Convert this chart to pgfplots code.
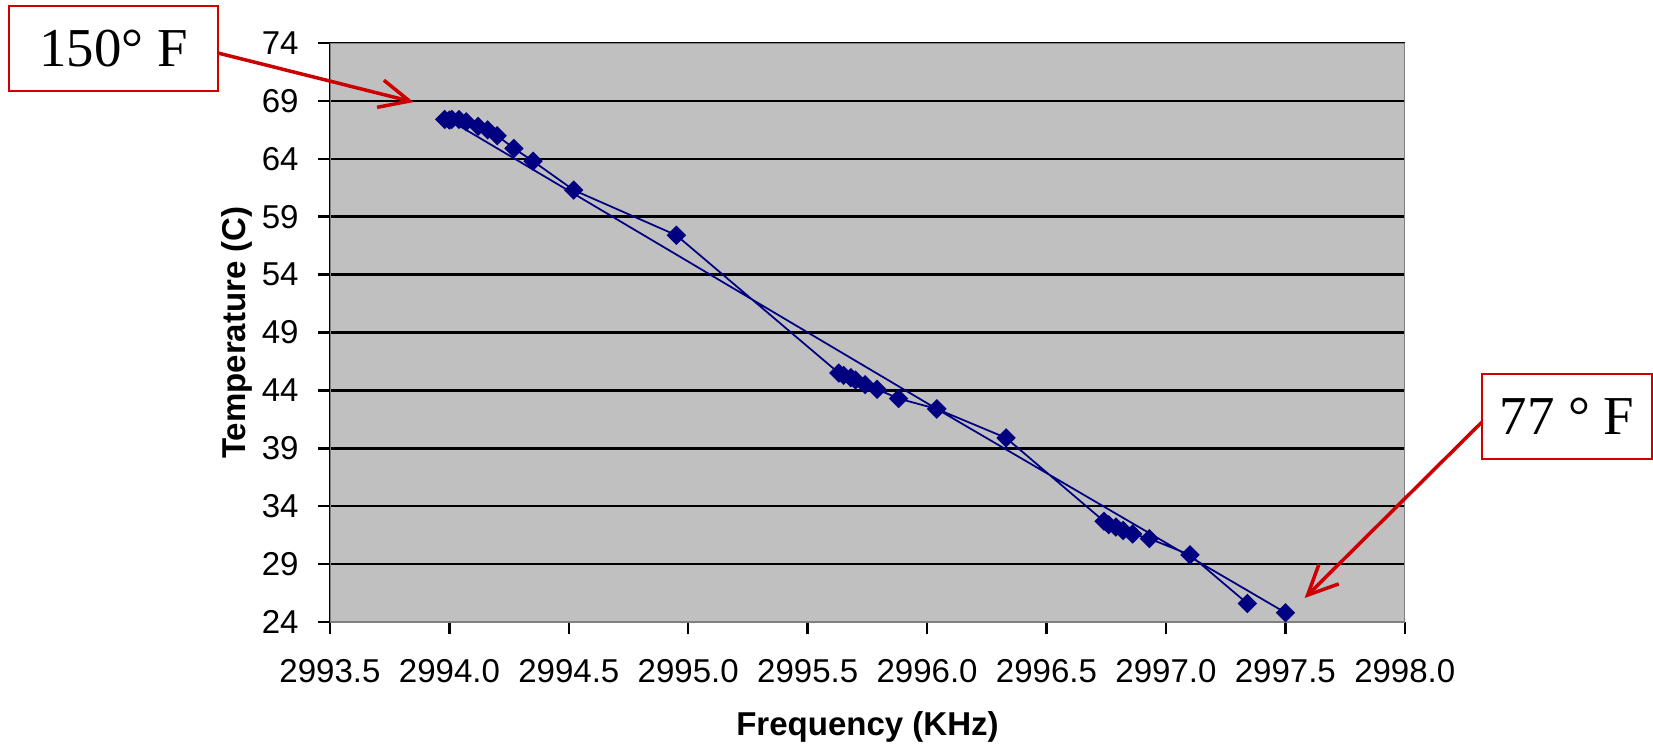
\documentclass[border=0pt]{standalone}
\usepackage{fontspec}
\setmainfont{Liberation Sans}
\newfontfamily\timesfont{Liberation Serif}
\usepackage{pgfplots}
\pgfplotsset{compat=1.18}
\usetikzlibrary{arrows.meta}
\definecolor{plotgray}{HTML}{C0C0C0}
\definecolor{navy}{HTML}{000080}
\definecolor{annred}{HTML}{CC0000}

\begin{document}
\begin{tikzpicture}
\path[use as bounding box] (0,0) rectangle (16.53,-7.44);
\begin{axis}[
    at={(3.30cm,-6.22cm)}, anchor=south west,
    scale only axis, width=10.75cm, height=5.79cm,
    xmin=2993.5, xmax=2998, ymin=24, ymax=74,
    xtick={2993.5,2994,...,2998},
    ytick={24,29,...,74},
    axis background/.style={fill=plotgray},
    ymajorgrids,
    major grid style={black, line width=0.7pt},
    axis x line*=bottom, axis y line*=left,
    axis line style={black, line width=0.7pt},
    tick style={black, line width=0.7pt},
    tick align=outside, major tick length=1.2mm,
    /pgf/number format/assume math mode=true,
    tick label style={font=\fontsize{9.4}{11}\selectfont},
    x tick label style={/pgf/number format/fixed,
        /pgf/number format/fixed zerofill,
        /pgf/number format/precision=1,
        /pgf/number format/1000 sep={}, yshift=-1.3mm},
    y tick label style={xshift=-0.7mm},
    label style={font=\fontsize{9.4}{11}\selectfont\bfseries},
    xlabel={Frequency (KHz)},
    ylabel={Temperature (C)},
    xlabel style={at={(axis description cs:0.5,0)}, anchor=center, yshift=-10.5mm},
    ylabel style={at={(axis description cs:0,0.5)}, anchor=center, yshift=9.3mm},
]
\draw[gray, line width=0.7pt] (rel axis cs:0,0) rectangle (rel axis cs:1,1);
\addplot[color=navy, line width=0.5pt, mark=square*,
    mark size=1.7pt, mark options={rotate=45, fill=navy, draw=navy}]
    coordinates {
    (2997.50,24.8)
    (2996.04,42.4)
    (2994.00,67.35)
    (2993.98,67.4)
    (2994.01,67.4)
    (2994.04,67.4)
    (2994.07,67.2)
    (2994.12,66.8)
    (2994.16,66.5)
    (2994.20,66.0)
    (2994.27,64.9)
    (2994.35,63.8)
    (2994.52,61.3)
    (2994.95,57.4)
    (2995.63,45.5)
    (2995.65,45.3)
    (2995.68,45.1)
    (2995.70,44.9)
    (2995.74,44.5)
    (2995.79,44.1)
    (2995.88,43.3)
    (2996.04,42.4)
    (2996.33,39.9)
    (2996.74,32.7)
    (2996.76,32.4)
    (2996.79,32.2)
    (2996.82,31.9)
    (2996.86,31.6)
    (2996.93,31.2)
    (2997.10,29.8)
    (2997.34,25.6)
    };
\coordinate (tipA) at (axis cs:2993.85,68.9);
\coordinate (tipB) at (axis cs:2997.58,26.07);
\end{axis}
\node[draw=annred, line width=0.6pt, fill=white, minimum width=2.09cm,
    minimum height=0.85cm, inner sep=0pt, font=\timesfont\fontsize{15.6}{18}\selectfont]
    at (1.135,-0.485) {150° F};
\node[draw=annred, line width=0.6pt, fill=white, minimum width=1.70cm,
    minimum height=0.85cm, inner sep=0pt, font=\timesfont\fontsize{15.6}{18}\selectfont]
    at (15.67,-4.165) {77 ° F};
\draw[annred, line width=1pt, -{Straight Barb[length=3mm, width=2.8mm]}]
    (2.18,-0.53) -- (tipA);
\draw[annred, line width=1pt, -{Straight Barb[length=3mm, width=2.8mm]}]
    (14.82,-4.22) -- (tipB);
\end{tikzpicture}
\end{document}
